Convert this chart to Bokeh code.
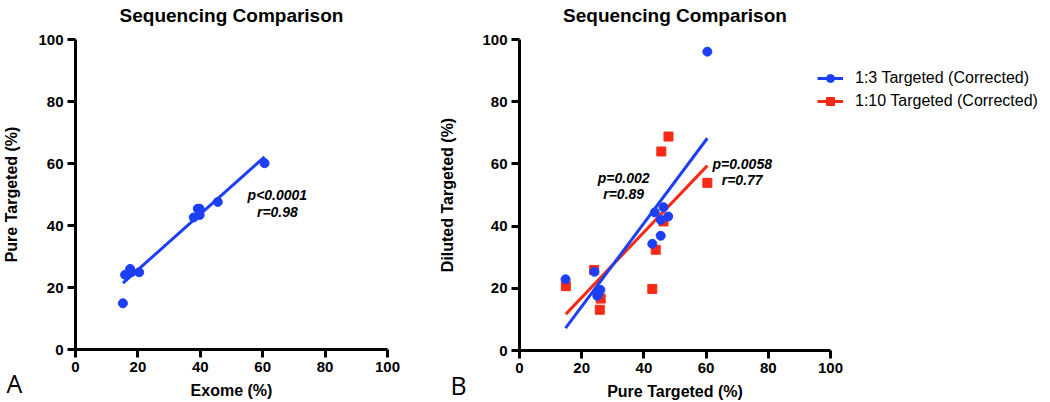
import numpy as np
from bokeh.plotting import figure
from bokeh.layouts import row
from bokeh.models import Label, Legend, LegendItem, Range1d, FixedTicker
from bokeh.embed import file_html
from bokeh.resources import INLINE

# ---- Panel A data: Exome vs Pure Targeted ----
exome_x = [15.2, 15.9, 17.5, 18.0, 20.4, 37.9, 39.2, 39.8, 39.8, 45.6, 60.6]
pure_y = [14.9, 24.1, 26.0, 25.0, 24.9, 42.6, 45.4, 45.4, 43.4, 47.6, 60.1]

# ---- Panel B data: Pure Targeted vs Diluted Targeted ----
b13_x = [14.8, 24.1, 25.0, 26.0, 25.4, 42.7, 43.5, 45.4, 45.4, 46.3, 47.8, 60.4]
b13_y = [22.9, 25.3, 17.6, 19.5, 18.4, 34.3, 44.4, 36.9, 42.0, 46.1, 43.1, 96.1]
b110_x = [14.9, 24.0, 26.1, 25.8, 42.7, 43.8, 46.3, 45.6, 47.9, 60.4]
b110_y = [20.7, 25.9, 16.7, 13.1, 19.8, 32.4, 41.5, 64.0, 68.8, 53.9]

ticks = [0, 20, 40, 60, 80, 100]
title_text = "Sequencing Comparison"
series_labels = ["1:3 Targeted (Corrected)", "1:10 Targeted (Corrected)"]

BLUE = "#1C3FF5"
RED = "#F82A16"
FONT = "Liberation Sans"

H = 400  # figure height


def fit_line(x, y):
    x = np.asarray(x, float)
    y = np.asarray(y, float)
    m, c = np.polyfit(x, y, 1)
    xs = np.array([x.min(), x.max()])
    return xs, m * xs + c


def make_fig(width, left_px, axis_w, top_px, axis_h, xlabel, ylabel, ystand):
    sx = axis_w / 100.0
    sy = axis_h / 100.0
    x0 = -left_px / sx
    x1 = x0 + width / sx
    y1 = 100 + top_px / sy
    y0 = y1 - H / sy
    p = figure(width=width, height=H, output_backend="svg", toolbar_location=None,
               title=None, x_range=Range1d(x0, x1), y_range=Range1d(y0, y1),
               min_border=0, min_border_left=0, min_border_right=0,
               min_border_top=0, min_border_bottom=0)
    p.grid.visible = False
    p.outline_line_color = None
    p.background_fill_color = "white"
    p.border_fill_color = "white"
    for ax in (p.xaxis[0], p.yaxis[0]):
        ax.fixed_location = 0
        ax.bounds = (0, 100)
        ax.ticker = FixedTicker(ticks=ticks)
        ax.axis_line_width = 3
        ax.axis_line_color = "black"
        ax.major_tick_line_width = 3
        ax.major_tick_line_color = "black"
        ax.major_tick_out = 8
        ax.major_tick_in = 0
        ax.minor_tick_line_color = None
        ax.major_label_text_font = FONT
        ax.major_label_text_font_style = "bold"
        ax.major_label_text_font_size = "15px"
        ax.major_label_text_color = "black"
        ax.major_label_standoff = 4
        ax.axis_label_text_font = FONT
        ax.axis_label_text_font_style = "bold"
        ax.axis_label_text_font_size = "16px"
        ax.axis_label_text_color = "black"
    p.xaxis[0].axis_label = xlabel
    p.yaxis[0].axis_label = ylabel
    p.xaxis[0].axis_label_standoff = 7
    p.yaxis[0].axis_label_standoff = ystand
    p.add_layout(Label(x=50, y=100, y_offset=24, text=title_text, text_align="center",
                       text_baseline="alphabetic", text_font=FONT, text_font_style="bold",
                       text_font_size="19px", text_color="black"))
    return p


def stat(p, x, y, txt):
    p.add_layout(Label(x=x, y=y, text=txt, text_align="center", text_baseline="middle",
                       text_font=FONT, text_font_style="bold italic",
                       text_font_size="14px", text_color="black"))


def panel_letter(p, txt, dx, dy):
    p.add_layout(Label(x=0, y=0, x_offset=dx, y_offset=dy, text=txt, text_align="center",
                       text_baseline="middle", text_font="Open Sans", text_font_size="25px",
                       text_color="black"))


# ---- Figure A ----
pA = make_fig(440, 75, 312, 39, 310, "Exome (%)", "Pure Targeted (%)", 15)
lx, ly = fit_line(exome_x, pure_y)
pA.line(lx, ly, line_color=BLUE, line_width=3)
pA.scatter(exome_x, pure_y, marker="circle", size=9, fill_color=BLUE, line_color=BLUE)
stat(pA, 64.7, 49.7, "p<0.0001")
stat(pA, 64.7, 44.3, "r=0.98")
panel_letter(pA, "A", -61, -33)

# ---- Figure B ----
pB = make_fig(608, 79, 311, 39, 311, "Pure Targeted (%)", "Diluted Targeted (%)", 23)
rx, ry = fit_line(b110_x, b110_y)
sq = pB.scatter(b110_x, b110_y, marker="square", size=9, fill_color=RED, line_color=RED)
rl = pB.line(rx, ry, line_color=RED, line_width=3)
bx, by = fit_line(b13_x, b13_y)
ci = pB.scatter(b13_x, b13_y, marker="circle", size=9, fill_color=BLUE, line_color=BLUE)
bl = pB.line(bx, by, line_color=BLUE, line_width=3)
stat(pB, 33.5, 55.5, "p=0.002")
stat(pB, 33.5, 50.4, "r=0.89")
stat(pB, 71.6, 60.0, "p=0.0058")
stat(pB, 71.6, 54.7, "r=0.77")
panel_letter(pB, "B", -61, -34)

legend = Legend(items=[LegendItem(label=series_labels[0], renderers=[bl, ci]),
                       LegendItem(label=series_labels[1], renderers=[rl, sq])],
                location=(377, 289), padding=0, margin=0, spacing=3,
                glyph_width=26, glyph_height=20, label_height=20, label_standoff=12,
                label_text_font=FONT, label_text_font_size="16px", label_text_color="black",
                border_line_color=None, background_fill_alpha=0)
pB.add_layout(legend, "center")

layout = row(pA, pB)
open("out.html", "w").write(file_html(layout, INLINE))
